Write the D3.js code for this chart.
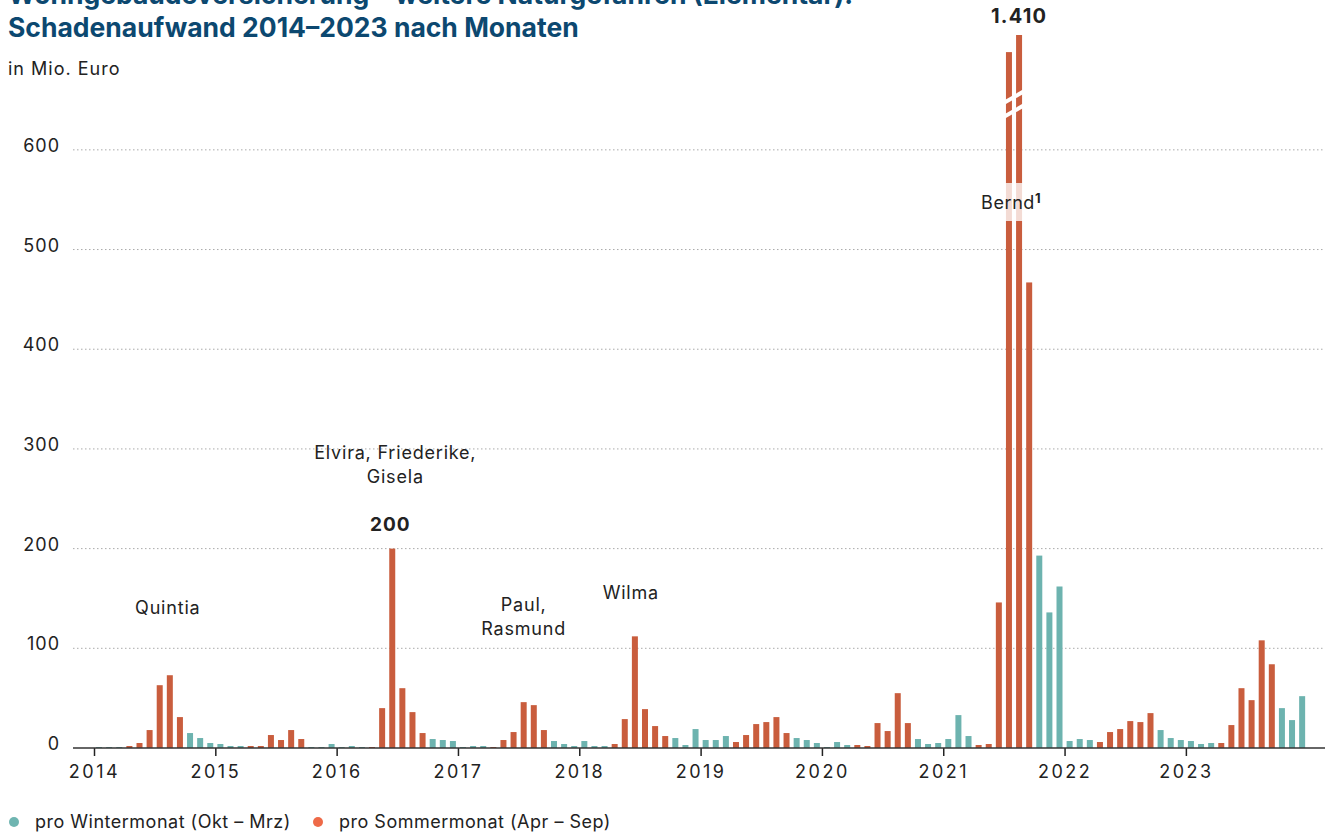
<!DOCTYPE html>
<html>
<head>
<meta charset="utf-8">
<script src="https://cdn.jsdelivr.net/npm/d3@7"></script>
<style>
  body { margin: 0; background: #fff; }
  text { font-family: Inter, "Noto Sans", sans-serif; fill: #222; }
</style>
</head>
<body>
<svg id="chart" width="1330" height="836"></svg>
<script>
// Schadenaufwand in Mio. Euro, Jan..Dez
var v2014 = [1, 1, 1, 2, 5, 18, 63, 73, 31, 15, 10, 5];
var v2015 = [4, 2, 2, 2, 2, 13, 8, 18, 9, 1, 1, 4];
var v2016 = [1, 2, 1, 1, 40, 200, 60, 36, 15, 9, 8, 7];
var v2017 = [1, 2, 2, 1, 8, 16, 46, 43, 18, 7, 4, 2];
var v2018 = [7, 2, 2, 4, 29, 112, 39, 22, 12, 10, 3, 19];
var v2019 = [8, 8, 12, 6, 13, 24, 26, 31, 15, 10, 8, 5];
var v2020 = [1, 6, 3, 3, 2, 25, 17, 55, 25, 9, 4, 5];
var v2021 = [9, 33, 12, 3, 4, 146, 1210, 1410, 467, 193, 136, 162];
var v2022 = [7, 9, 8, 6, 16, 19, 27, 26, 35, 18, 10, 8];
var v2023 = [7, 4, 5, 5, 23, 60, 48, 108, 84, 40, 28, 52];

var years = [2014, 2015, 2016, 2017, 2018, 2019, 2020, 2021, 2022, 2023];
var yearValues = [v2014, v2015, v2016, v2017, v2018, v2019, v2020, v2021, v2022, v2023];
var yTicks = [0, 100, 200, 300, 400, 500, 600];
var summerMonths = [3, 4, 5, 6, 7, 8]; // Apr - Sep

// storm labels, placed by month index
var stormNames = [
  { i: 7.3, lines: ["Quintia"], y: 614 },
  { i: 29.8, lines: ["Elvira, Friederike,", "Gisela"], y: 459 },
  { i: 42.5, lines: ["Paul,", "Rasmund"], y: 611 },
  { i: 53.1, lines: ["Wilma"], y: 599 }
];

var data = [];
years.forEach(function(yr, k) {
  yearValues[k].forEach(function(v, m) {
    data.push({ idx: k * 12 + m, year: yr, month: m, value: v,
      summer: summerMonths.indexOf(m) >= 0 });
  });
});

var svg = d3.select("#chart");
var colWinter = "#6db3af", colSummer = "#c95d3d";

var x = d3.scaleLinear().domain([0, 120]).range([94, 1307.2]);
// broken axis above 650
var y = d3.scaleLinear().domain([0, 650, 1410]).range([748, 100, 35]);
var barW = 6;

//Title
[["Wohngebäudeversicherung – weitere Naturgefahren (Elementar):", 4],
 ["Schadenaufwand 2014–2023 nach Monaten", 37]].forEach(function(t) {
  svg.append("text").attr("x", 8).attr("y", t[1])
    .style("font-size", "26.5px").style("font-weight", 700).style("fill", "#0c4870")
    .text(t[0]);
});
svg.append("text").attr("x", 8).attr("y", 75)
  .style("font-size", "18px").style("letter-spacing", "1px").text("in Mio. Euro");

//Gridlines
svg.selectAll(".grid").data(yTicks.filter(function(d) { return d > 0; }))
  .enter().append("line")
  .attr("x1", 73).attr("x2", 1325)
  .attr("y1", function(d) { return y(d); }).attr("y2", function(d) { return y(d); })
  .attr("stroke", "#aaa").attr("stroke-width", 1).attr("stroke-dasharray", "1.5,2.5");

svg.selectAll(".ylab").data(yTicks)
  .enter().append("text")
  .attr("x", 60).attr("y", function(d) { return y(d) + 2; })
  .attr("text-anchor", "end")
  .style("font-size", "18px").style("letter-spacing", "1px")
  .text(function(d) { return d; });

//Bars
svg.selectAll(".bar").data(data)
  .enter().append("rect")
  .attr("x", function(d) { return x(d.idx + 0.5) - barW / 2; })
  .attr("width", barW)
  .attr("y", function(d) { return y(d.value); })
  .attr("height", function(d) { return y(0) - y(d.value); })
  .attr("fill", function(d) { return d.summer ? colSummer : colWinter; });

//Axis break marks on the two big bars
[0, 14].forEach(function(off) {
  svg.append("line")
    .attr("x1", x(90) - 2).attr("x2", x(92) + 2)
    .attr("y1", 104 + off).attr("y2", 90 + off)
    .attr("stroke", "#fff").attr("stroke-width", 4);
});

//X axis
var xAxis = d3.axisBottom(x)
  .tickValues(d3.range(0, 120, 12))
  .tickSize(8)
  .tickFormat(function(d) { return years[d / 12]; });
var gx = svg.append("g").attr("transform", "translate(0,748)").call(xAxis);
gx.select(".domain").remove();
gx.selectAll(".tick line").attr("stroke", "#222").attr("stroke-width", 1.5);
gx.selectAll(".tick text").attr("y", 17).style("font-size", "18px")
  .style("letter-spacing", "2.5px")
  .style("font-family", "Inter, 'Noto Sans', sans-serif").attr("fill", "#222");
svg.append("line").attr("x1", 73).attr("x2", 1325).attr("y1", 748).attr("y2", 748)
  .attr("stroke", "#333").attr("stroke-width", 1.5);

//Storm labels
stormNames.forEach(function(s) {
  var t = svg.append("text").attr("text-anchor", "middle")
    .style("font-size", "18px").style("letter-spacing", "0.8px");
  s.lines.forEach(function(l, j) {
    t.append("tspan").attr("x", x(s.i)).attr("y", s.y + j * 24).text(l);
  });
});

//Value labels
svg.append("text").attr("x", x(29.5) - 2).attr("y", 531).attr("text-anchor", "middle")
  .style("font-size", "19px").style("font-weight", 700).style("letter-spacing", "1px").text("200");
svg.append("text").attr("x", x(91.5)).attr("y", 23).attr("text-anchor", "middle")
  .style("font-size", "20px").style("font-weight", 700).style("letter-spacing", "1.2px").text("1.410");

//Bernd label with light backdrop
svg.append("rect").attr("x", 982).attr("y", 183).attr("width", 62).attr("height", 38)
  .attr("fill", "#fff").attr("opacity", 0.78);
var bernd = svg.append("text").attr("x", 981).attr("y", 209)
  .style("font-size", "18px").style("letter-spacing", "0.6px");
bernd.append("tspan").text("Bernd");
bernd.append("tspan").attr("dy", -6).style("font-size", "13px").style("font-weight", 700).text("1");

//Legend
var legend = [
  { label: "pro Wintermonat (Okt – Mrz)", color: "#6fb5b1", x: 14 },
  { label: "pro Sommermonat (Apr – Sep)", color: "#ee6a48", x: 318 }
];
legend.forEach(function(l) {
  svg.append("circle").attr("cx", l.x).attr("cy", 822).attr("r", 5).attr("fill", l.color);
  svg.append("text").attr("x", l.x + 21).attr("y", 828)
    .style("font-size", "18px").style("letter-spacing", "0.5px").text(l.label);
});
</script>
</body>
</html>
